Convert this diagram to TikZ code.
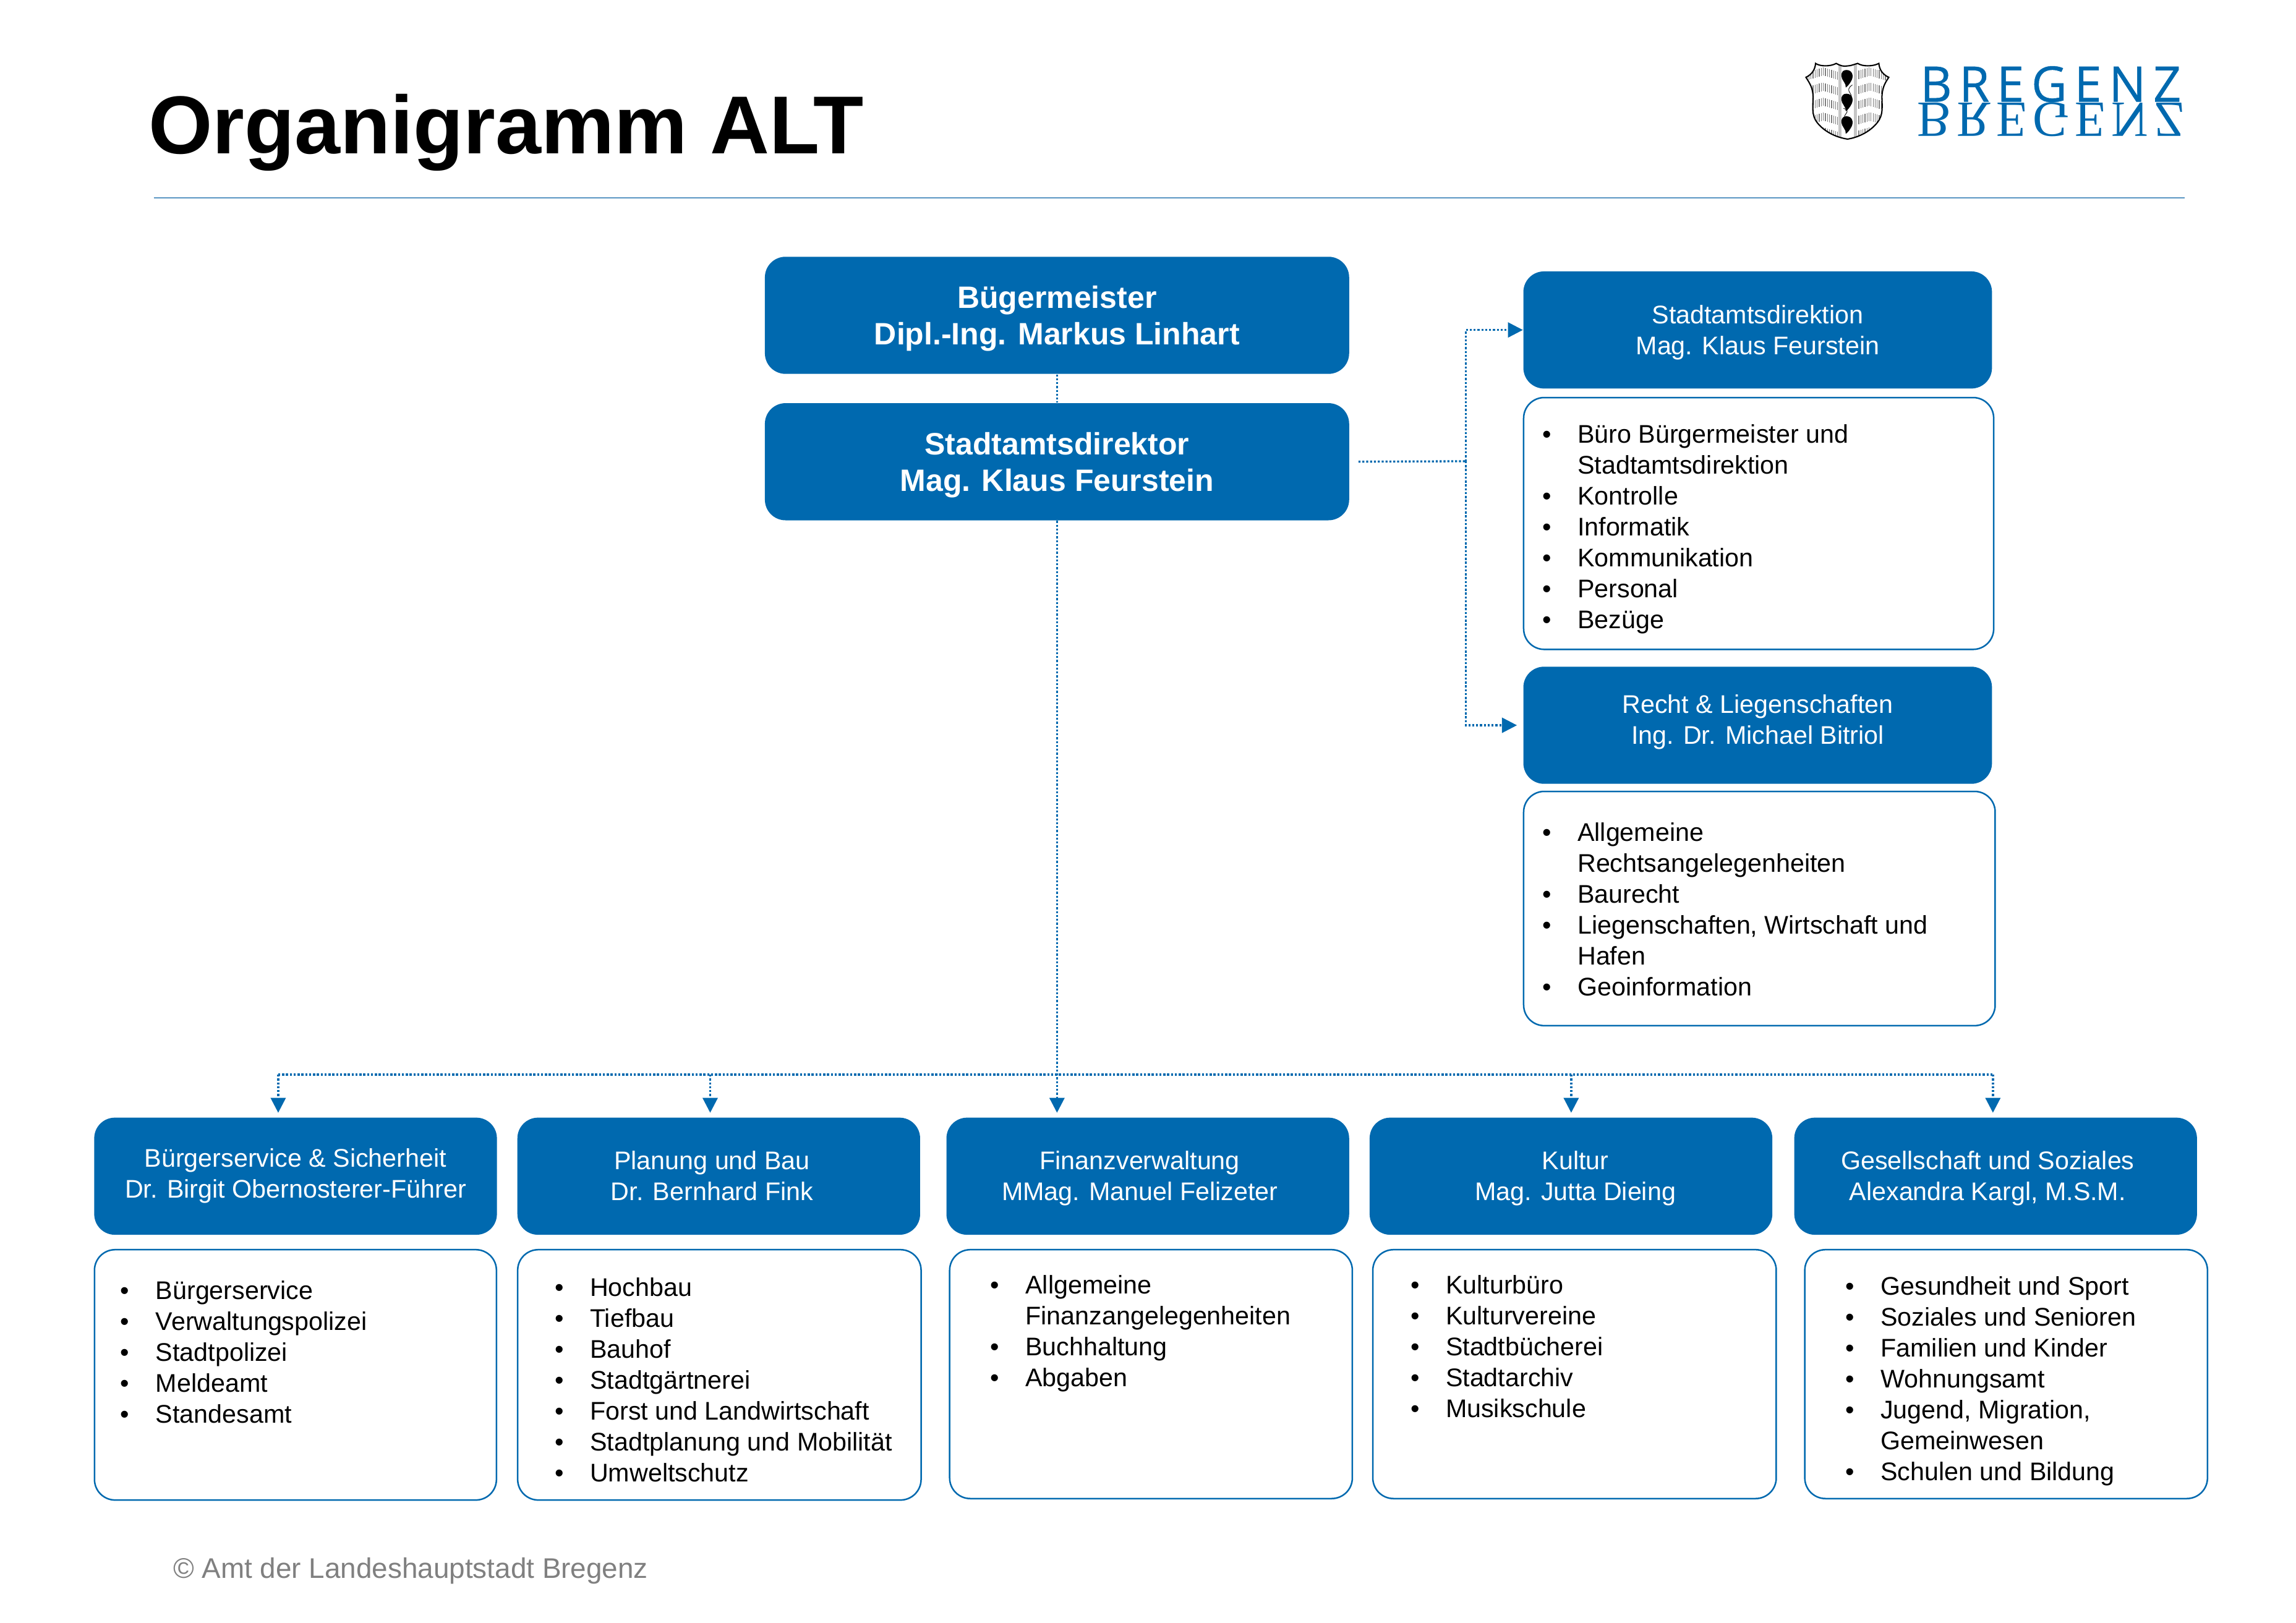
\documentclass[tikz,border=0pt]{standalone}
\usepackage{fontspec}
\setmainfont{Liberation Sans}
\newfontfamily\logosans{Open Sans}[LetterSpace=15,FakeBold=0.6]
\newfontfamily\logoserif{Liberation Serif}[LetterSpace=11]
\usetikzlibrary{arrows.meta}
\definecolor{orgBlue}{RGB}{0,105,175}
\definecolor{ruleBlue}{RGB}{90,150,195}
\definecolor{footGray}{RGB}{128,128,128}
\tikzset{
  boxsize/.style 2 args={minimum width=#1*0.5683pt,minimum height=#2*0.5683pt},
  topbox/.style={anchor=north west,fill=orgBlue,text=white,rounded corners=8pt,inner sep=0pt,boxsize={399}{80},font=\fontsize{12}{14.2}\selectfont\bfseries},
  headbox/.style={anchor=north west,fill=orgBlue,text=white,rounded corners=8pt,inner sep=0pt,font=\fontsize{9.9}{12}\selectfont},
  listbox/.style={anchor=north west,draw=orgBlue,line width=0.6pt,fill=white,rounded corners=8pt,inner sep=0pt},
  listtext/.style={anchor=north west,inner sep=0pt,align=left,font=\fontsize{9.9}{12}\selectfont},
  orgline/.style={draw=orgBlue,line width=0.8pt,dash pattern=on 0.8pt off 0.7pt},
  orgarrow/.style={orgline,-{Triangle[length=5.8pt,width=5.8pt]}}
}
\newcommand{\orgitem}[1]{\makebox[12pt][l]{\hspace*{-1.7pt}\textbullet}#1\strut}
\newcommand{\orgcont}[1]{\hspace*{12pt}#1\strut}
\newcommand{\boxlabel}[3]{\hspace*{#1}\raisebox{#2}[\height][\depth]{\begin{tabular}{@{}c@{}}#3\end{tabular}}}
\newcommand{\shieldpath}{(1239.9,43.3) .. controls (1243,45.5) and (1250,45.5) .. (1254,43.3) .. controls (1257,45) and (1259,45.5) .. (1261.8,45) .. controls (1264,45) and (1266,44) .. (1268.6,43.3) .. controls (1272,45.5) and (1279,45.5) .. (1283.1,43.3) .. controls (1283.5,48) and (1286,51) .. (1289.9,52.8) .. controls (1287,57) and (1285.5,60) .. (1285.2,66) .. controls (1285.5,76) and (1286,80) .. (1280,86) .. controls (1275,91) and (1268,94) .. (1261.8,95) .. controls (1255,94) and (1248,91) .. (1243,86) .. controls (1237,80) and (1238,76) .. (1238.2,66) .. controls (1238,60) and (1236,57) .. (1233.3,52.8) .. controls (1237,51) and (1239.5,48) .. (1239.9,43.3) -- cycle}
\begin{document}
\begin{tikzpicture}[x=0.5683pt,y=-0.5683pt]
\path[use as bounding box,fill=white] (0,0) rectangle (1568,1108.5);

\node[anchor=base west,inner sep=0pt,font=\fontsize{31.9}{36}\selectfont\bfseries] (title) at (101,105) {Organigramm ALT};
\coordinate (ruleL) at (105,135);
\coordinate (ruleR) at (1492,135);
\draw[ruleBlue,line width=0.45pt] (ruleL) -- (ruleR);

\begin{scope}
\fill[white] \shieldpath;
\clip \shieldpath;
\foreach \rowy in {46,56.4,66.6,76.8,87}{
  \foreach \hx in {1234,1235.4,...,1256}{
    \pgfmathsetmacro{\hy}{\rowy+0.3*abs(\hx-1245)}
    \draw[gray,line width=0.3pt] (\hx,\hy) -- (\hx,\hy+5.6);
  }
  \foreach \hx in {1268,1269.4,...,1290}{
    \pgfmathsetmacro{\hy}{\rowy+0.3*abs(\hx-1277)}
    \draw[gray,line width=0.3pt] (\hx,\hy) -- (\hx,\hy+5.6);
  }
}
\fill[gray!45] (1255.5,40) rectangle (1257.5,98);
\fill[gray!45] (1266,40) rectangle (1268,98);
\foreach \dropy in {52.8,69,84.4}{
  \fill[black] (1261,\dropy-5) .. controls (1265,\dropy-5) and (1266,\dropy-1) .. (1264.5,\dropy+2) .. controls (1263.5,\dropy+4) and (1262,\dropy+6) .. (1260.5,\dropy+7) .. controls (1261,\dropy+4) and (1257.5,\dropy+2) .. (1257.5,\dropy-1) .. controls (1257.5,\dropy-4) and (1259,\dropy-5) .. (1261,\dropy-5) -- cycle;
}
\draw[black,line width=0.2pt] (1265,58) .. controls (1259,62) and (1266,64) .. (1264,67);
\draw[black,line width=0.2pt] (1259,74) .. controls (1265,76) and (1258,78) .. (1260,81);
\end{scope}
\draw[black,line width=0.5pt] \shieldpath;

\node[anchor=base west,inner sep=0pt,text=orgBlue,font=\logosans\fontsize{19}{19}\selectfont] (logotop) at (1311,69.4) {BREGENZ};
\node[anchor=base west,inner sep=0pt,text=orgBlue,font=\logoserif\fontsize{19.7}{19.7}\selectfont,yscale=-1,transform shape] (logobottom) at (1309,70.4) {BREGENZ};

\node[topbox] (bgm) at (522,175) {\boxlabel{0pt}{-1.5pt}{Bügermeister\\Dipl.-Ing. Markus Linhart}};
\node[topbox] (dir) at (522,275) {\boxlabel{0pt}{-1.5pt}{Stadtamtsdirektor\\Mag. Klaus Feurstein}};

\node[headbox,boxsize={320}{80}] (sdir) at (1040,185) {\boxlabel{0pt}{-1.1pt}{Stadtamtsdirektion\\Mag. Klaus Feurstein}};
\node[listbox,boxsize={321}{172}] (listS) at (1040,271) {};
\node[listtext] (listSitems) at (1055.9,287.4) {\orgitem{Büro Bürgermeister und}\\\orgcont{Stadtamtsdirektion}\\\orgitem{Kontrolle}\\\orgitem{Informatik}\\\orgitem{Kommunikation}\\\orgitem{Personal}\\\orgitem{Bezüge}};

\node[headbox,boxsize={320}{80}] (recht) at (1040,455) {\boxlabel{0pt}{1.1pt}{Recht \& Liegenschaften\\Ing. Dr. Michael Bitriol}};
\node[listbox,boxsize={322}{160}] (listR) at (1040,540) {};
\node[listtext] (listRitems) at (1055.9,559.4) {\orgitem{Allgemeine}\\\orgcont{Rechtsangelegenheiten}\\\orgitem{Baurecht}\\\orgitem{Liegenschaften, Wirtschaft und}\\\orgcont{Hafen}\\\orgitem{Geoinformation}};

\node[headbox,boxsize={275}{80}] (headA) at (64,763) {\boxlabel{0pt}{0pt}{Bürgerservice \& Sicherheit\\Dr. Birgit Obernosterer-Führer}};
\node[headbox,boxsize={275}{80}] (headB) at (353,763) {\boxlabel{-5.2pt}{-0.9pt}{Planung und Bau\\Dr. Bernhard Fink}};
\node[headbox,boxsize={275}{80}] (headC) at (646,763) {\boxlabel{-6.2pt}{-0.9pt}{Finanzverwaltung\\MMag. Manuel Felizeter}};
\node[headbox,boxsize={275}{80}] (headD) at (935,763) {\boxlabel{3.4pt}{-0.9pt}{Kultur\\Mag. Jutta Dieing}};
\node[headbox,boxsize={275}{80}] (headE) at (1225,763) {\boxlabel{-6.2pt}{-0.9pt}{Gesellschaft und Soziales\\Alexandra Kargl, M.S.M.}};

\node[listbox,boxsize={274.5}{171}] (listA) at (64,853) {};
\node[listbox,boxsize={275.5}{171}] (listB) at (353,853) {};
\node[listbox,boxsize={275}{170}] (listC) at (648,853) {};
\node[listbox,boxsize={275.5}{170}] (listD) at (937,853) {};
\node[listbox,boxsize={275}{170}] (listE) at (1232,853) {};

\node[listtext] (listAitems) at (84.9,872.4) {\orgitem{Bürgerservice}\\\orgitem{Verwaltungspolizei}\\\orgitem{Stadtpolizei}\\\orgitem{Meldeamt}\\\orgitem{Standesamt}};
\node[listtext] (listBitems) at (381.5,870.4) {\orgitem{Hochbau}\\\orgitem{Tiefbau}\\\orgitem{Bauhof}\\\orgitem{Stadtgärtnerei}\\\orgitem{Forst und Landwirtschaft}\\\orgitem{Stadtplanung und Mobilität}\\\orgitem{Umweltschutz}};
\node[listtext] (listCitems) at (678.9,868.4) {\orgitem{Allgemeine}\\\orgcont{Finanzangelegenheiten}\\\orgitem{Buchhaltung}\\\orgitem{Abgaben}};
\node[listtext] (listDitems) at (965.9,868.4) {\orgitem{Kulturbüro}\\\orgitem{Kulturvereine}\\\orgitem{Stadtbücherei}\\\orgitem{Stadtarchiv}\\\orgitem{Musikschule}};
\node[listtext] (listEitems) at (1262.9,869.4) {\orgitem{Gesundheit und Sport}\\\orgitem{Soziales und Senioren}\\\orgitem{Familien und Kinder}\\\orgitem{Wohnungsamt}\\\orgitem{Jugend, Migration,}\\\orgcont{Gemeinwesen}\\\orgitem{Schulen und Bildung}};

\coordinate (branch) at (1001,315);
\coordinate (busA) at (190,734);
\coordinate (busB) at (485,734);
\coordinate (busD) at (1073,734);
\coordinate (busE) at (1361,734);

\draw[orgline] (bgm.south) -- (dir.north);
\draw[orgline,shorten <=3.4pt] (dir.east) -- (branch);
\draw[orgarrow] (branch) |- (sdir.west);
\draw[orgarrow,shorten >=2.3pt] (branch) |- (recht.west);
\draw[orgline] (busA) -- (busE);
\draw[orgarrow,shorten >=1.7pt] (dir.south) -- (dir.south |- headC.north);
\draw[orgarrow,shorten >=1.7pt] (busA) -- (busA |- headA.north);
\draw[orgarrow,shorten >=1.7pt] (busB) -- (busB |- headB.north);
\draw[orgarrow,shorten >=1.7pt] (busD) -- (busD |- headD.north);
\draw[orgarrow,shorten >=1.7pt] (busE) -- (busE |- headE.north);

\node[anchor=base west,inner sep=0pt,text=footGray,font=\fontsize{11}{13}\selectfont] (footer) at (118,1078) {© Amt der Landeshauptstadt Bregenz};
\end{tikzpicture}
\end{document}
